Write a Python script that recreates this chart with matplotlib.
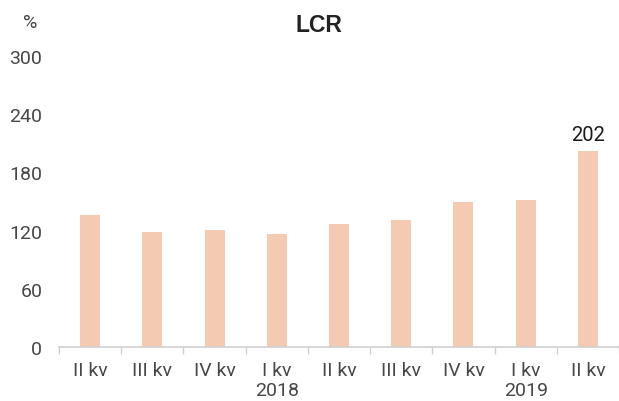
import numpy as np
import matplotlib.pyplot as plt

# ==========================================================
# Data
# ==========================================================

QUARTERS = ["II kv", "III kv", "IV kv", "I kv\n2018", "II kv",
            "III kv", "IV kv", "I kv\n2019", "II kv"]
LCR_VALUES = [136, 119, 121, 116, 127, 131, 149, 152, 202]

Y_TICKS = [0, 60, 120, 180, 240, 300]

BAR_COLOR = "#F4CAB3"
TEXT_COLOR = "#474747"
AXIS_COLOR = "#D0D0D0"

plt.rcParams["font.family"] = ["Roboto", "DejaVu Sans"]
plt.rcParams["font.weight"] = "normal"

fig = plt.figure(figsize=(6.19, 4.02), dpi=100)
ax = fig.add_axes([59 / 619, 1 - 348 / 402, 560 / 619, 291 / 402])

x = np.arange(len(LCR_VALUES))
ax.bar(x, LCR_VALUES, width=0.32, color=BAR_COLOR, zorder=2)

ax.set_xlim(-0.5, len(LCR_VALUES) - 0.5)
ax.set_ylim(0, 300)

ax.set_yticks(Y_TICKS)
ax.set_yticklabels([str(v) for v in Y_TICKS], fontsize=14,
                   color=TEXT_COLOR)
ax.tick_params(axis="y", length=0, pad=12)

# category labels centred, tick marks at boundaries
ax.set_xticks(x)
ax.set_xticklabels(QUARTERS, fontsize=14, color=TEXT_COLOR,
                   linespacing=1.15)
ax.tick_params(axis="x", which="major", length=0, pad=10)
ax.set_xticks(np.arange(-0.5, len(LCR_VALUES)), minor=True)
ax.tick_params(axis="x", which="minor", length=5, color=AXIS_COLOR, width=1)

for side in ["top", "right", "left"]:
    ax.spines[side].set_visible(False)
ax.spines["bottom"].set_color(AXIS_COLOR)
ax.spines["bottom"].set_linewidth(1.2)

# label on last bar only
ax.text(x[-1], LCR_VALUES[-1] + 7, str(LCR_VALUES[-1]), ha="center",
        va="bottom", fontsize=14.5, color="#1a1a1a")

fig.text(319 / 619, 1 - 25 / 402, "LCR", ha="center", va="center",
         fontsize=16.5, fontweight="bold", color="#222222",
         family=["Liberation Sans", "DejaVu Sans"])
fig.text(30 / 619, 1 - 23 / 402, "%", ha="center", va="center",
         fontsize=14, color=TEXT_COLOR)

fig.savefig("out.png", dpi=100)
